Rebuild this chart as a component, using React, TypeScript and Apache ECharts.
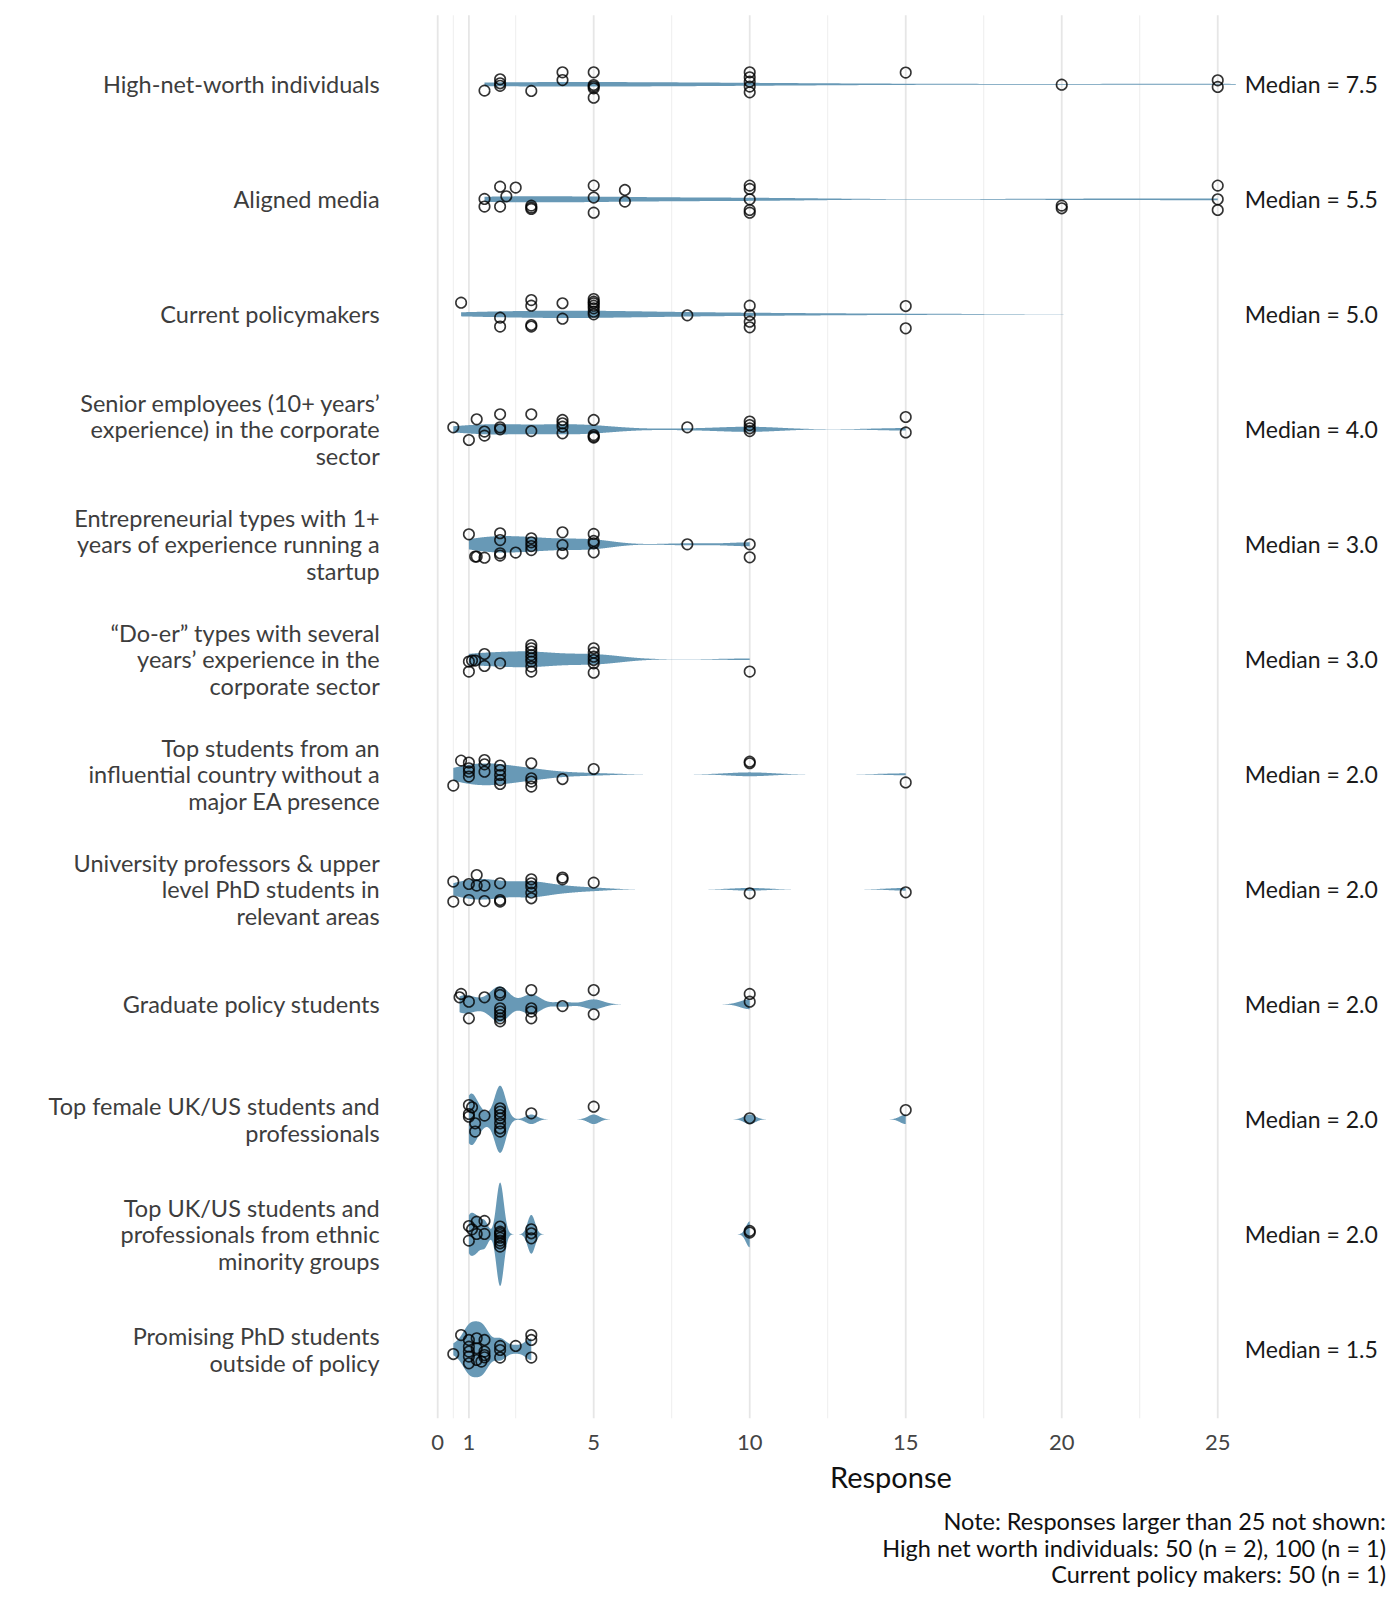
import React, { useEffect, useRef } from "react";
import * as echarts from "echarts";

const FONT = 'Lato, "Noto Sans", sans-serif';

const CATEGORIES = [
  "High-net-worth individuals",
  "Aligned media",
  "Current policymakers",
  "Senior employees (10+ years’\nexperience) in the corporate\nsector",
  "Entrepreneurial types with 1+\nyears of experience running a\nstartup",
  "“Do-er” types with several\nyears’ experience in the\ncorporate sector",
  "Top students from an\ninfluential country without a\nmajor EA presence",
  "University professors & upper\nlevel PhD students in\nrelevant areas",
  "Graduate policy students",
  "Top female UK/US students and\nprofessionals",
  "Top UK/US students and\nprofessionals from ethnic\nminority groups",
  "Promising PhD students\noutside of policy",
];

const MEDIANS = [7.5, 5.5, 5.0, 4.0, 3.0, 3.0, 2.0, 2.0, 2.0, 2.0, 2.0, 1.5];

const X_TICKS = [0, 1, 5, 10, 15, 20, 25];
const GRID_MAJOR = [0, 1, 5, 10, 15, 20, 25];
const GRID_MINOR = [0.5, 2.5, 7.5, 12.5, 17.5, 22.5];

// Kernel bandwidth per group (response units), tuned to the reference shapes
const BANDWIDTHS = [3.5, 2.5, 2.6, 1.0, 0.7, 0.9, 0.7, 0.55, 0.3, 0.18, 0.12, 0.2];

// [response, vertical jitter in % of a row band]
const HNW: [number, number][] = [
  [1.5, 5.5], [2, -4.3], [2, -0.9], [2, 1.3], [3, 5.8], [4, -10.4], [4, -3.7],
  [5, -10.4], [5, 0.6], [5, 2], [5, 3.5], [5, 11.6],
  [10, -10.4], [10, -6.1], [10, -2.3], [10, 2], [10, 7],
  [15, -10.2], [20, 0.3], [25, -3.5], [25, 2.3],
];
const MEDIA: [number, number][] = [
  [1.5, -0.3], [1.5, 6.3], [2, -11], [2, 6.3], [2.2, -2.6], [2.5, -10.2],
  [3, 5.5], [3, 7.2], [3, 8.4], [5, -11.9], [5, -1.5], [5, 11.6], [6, -8.1], [6, 2],
  [10, -11.9], [10, -9], [10, 0], [10, 9.3], [10, 11.6],
  [20, 5.5], [20, 7.8], [25, -11.9], [25, 0], [25, 9.3],
];
const POLICY: [number, number][] = [
  [0.75, -10.1], [2, 2.9], [2, 10.7], [3, -12.4], [3, -7.5], [3, 9.3], [3, 10.7],
  [4, -9.6], [4, 3.8], [5, -13.3], [5, -11], [5, -9.6], [5, -7.5], [5, -5.2], [5, -2.3], [5, 0],
  [8, 0.9], [10, -7.5], [10, 0.6], [10, 6.4], [10, 11.3], [15, -7.2], [15, 12.2],
];
const SENIOR: [number, number][] = [
  [0.5, -1.7], [1, 9.3], [1.25, -8.7], [1.5, 2], [1.5, 5.5], [2, -13], [2, -1.7], [2, 0],
  [3, -13], [3, 1.5], [4, -8.1], [4, -5.2], [4, -2.3], [4, 3.5],
  [5, -8.1], [5, 5], [5, 6.3], [5, 7.2], [8, -1.7],
  [10, -6.7], [10, -3.7], [10, -0.9], [10, 1.5], [15, -10.7], [15, 2.7],
];
const ENTRE: [number, number][] = [
  [1, -8.7], [1.2, 10.7], [1.25, 10.7], [1.5, 11.6], [2, -9.6], [2, -3.7], [2, 7.8], [2, 9.8],
  [2.5, 7.2], [3, -5.2], [3, -1.7], [3, 1.5], [3, 5], [4, -10.4], [4, 0.6], [4, 7.8],
  [5, -9], [5, -2.9], [5, -0.9], [5, 7], [8, 0], [10, 0], [10, 11.3],
];
const DOER: [number, number][] = [
  [1, 10.7], [1, 2], [1.1, 1.1], [1.2, 1.1], [1.5, -4.6], [1.5, 5.8], [2, 3.5],
  [3, -12.4], [3, -9.6], [3, -6.7], [3, -3.7], [3, -0.9], [3, 2], [3, 6.3], [3, 10.7],
  [5, -9.6], [5, -5.8], [5, -2.3], [5, 0.6], [5, 3.5], [5, 11.6], [10, 10.7],
];
const INFLUENTIAL: [number, number][] = [
  [0.5, 9.8], [0.75, -11.9], [1, -10.2], [1, -5.2], [1, -2.3], [1, 2],
  [1.5, -12.4], [1.5, -8.7], [1.5, -2.3], [2, -7.6], [2, -3.7], [2, 0.6], [2, 5], [2, 8.4],
  [3, -9.6], [3, 3.5], [3, 6.3], [3, 10.7], [4, 4.1], [5, -4.6], [10, -11], [10, -9.6], [15, 7.1],
];
const PROFESSORS: [number, number][] = [
  [0.5, -6.7], [0.5, 10.7], [1, -4.6], [1, 9.3], [1.25, -3.2], [1.25, -12.4],
  [1.5, -3.2], [1.5, 10.2], [2, -5.2], [2, 9.3], [2, 10.7],
  [3, -8.7], [3, -5.2], [3, -2.3], [3, 2.9], [3, 7.8], [4, -10.2], [4, -8.7],
  [5, -5.8], [10, 3.5], [15, 2.6],
];
const GRADUATE: [number, number][] = [
  [0.7, -6.1], [0.75, -9], [1, -2.3], [1, 12.2], [1.5, -6.1],
  [2, -10.2], [2, -8.1], [2, 3.5], [2, 6.3], [2, 9.3], [2, 12.2], [2, 14.8],
  [3, -12.4], [3, 3.5], [3, 6.3], [3, 12.2], [4, 1.5], [5, -12.4], [5, 8.7], [10, -9], [10, -2.3],
];
const FEMALE: [number, number][] = [
  [1, -12.4], [1.1, -10.4], [1, -4.6], [1, -2.3], [1.2, 3.5], [1.2, 10.7], [1.5, -3.2],
  [2, -9.6], [2, -6.7], [2, -3.7], [2, -0.9], [2, 3.5], [2, 7.8], [2, 10.7],
  [3, -5.2], [5, -11], [10, -0.9], [15, -8],
];
const ETHNIC: [number, number][] = [
  [1, -7.2], [1, 5.5], [1.1, -4.3], [1.25, -11], [1.25, -0.3], [1.5, -11.6], [1.5, -0.3],
  [2, -6.7], [2, -2.3], [2, -1], [2, 0.6], [2, 3], [2, 5.5], [2, 7.8], [2, 10.7],
  [3, -4.3], [3, -0.9], [3, 3.5], [10, -2.9], [10, -1.5],
];
const PHD: [number, number][] = [
  [0.5, 4.1], [0.75, -12.4], [1, -8.1], [1, -2.3], [1, 2], [1, 6.3], [1, 12.2],
  [1.25, -9.6], [1.25, -0.9], [1.25, 9.3], [1.4, 10.7],
  [1.5, -8.1], [1.5, 2], [1.5, 5], [1.5, 7], [2, -2.9], [2, 0.6], [2, 7.2],
  [2.5, -2.9], [3, -12.4], [3, -8.1], [3, 7.2],
];

const GROUP_POINTS = [HNW, MEDIA, POLICY, SENIOR, ENTRE, DOER, INFLUENTIAL, PROFESSORS, GRADUATE, FEMALE, ETHNIC, PHD];

// Responses beyond the axis (not drawn as points, but part of each violin)
const OFFSCALE: number[][] = [[50, 50, 100], [], [50], [], [], [], [], [], [], [], [], []];

const NOTE_LINES = [
  "Note: Responses larger than 25 not shown:",
  "High net worth individuals: 50 (n = 2), 100 (n = 1)",
  "Current policy makers: 50 (n = 1)",
];

const VIOLIN_COLOR = "#6899b6";

function density(values: number[], bw: number, steps: number) {
  const lo = Math.min(...values);
  const hi = Math.max(...values);
  const n = values.length;
  const xs: number[] = [];
  const ds: number[] = [];
  const norm = 1 / (n * bw * Math.sqrt(2 * Math.PI));
  for (let k = 0; k <= steps; k++) {
    const x = lo + ((hi - lo) * k) / steps;
    let s = 0;
    for (const v of values) {
      const z = (x - v) / bw;
      s += Math.exp(-0.5 * z * z);
    }
    xs.push(x);
    ds.push(s * norm);
  }
  return { xs, ds };
}

const DENSITIES = GROUP_POINTS.map((pts, i) =>
  density(pts.map((p) => p[0]).concat(OFFSCALE[i]), BANDWIDTHS[i], 1024)
);
const DMAX = Math.max(...DENSITIES.map((d) => Math.max(...d.ds)));

export default function App() {
  const ref = useRef<HTMLDivElement>(null);

  useEffect(() => {
    document.body.style.margin = "0";
    const chart = echarts.init(ref.current!, null, { renderer: "svg" });

    const gridSeries = (vals: number[], color: string, width: number) => ({
      type: "custom",
      silent: true,
      z: 0,
      data: vals.map((v) => [v]),
      renderItem: (_p: any, api: any) => {
        const a = api.coord([api.value(0), 0.4]);
        const b = api.coord([api.value(0), 12.6]);
        return {
          type: "line",
          shape: { x1: a[0], y1: a[1], x2: b[0], y2: b[1] },
          style: { stroke: color, lineWidth: width },
        };
      },
    });

    const pointData: number[][] = [];
    GROUP_POINTS.forEach((pts, i) => {
      pts.forEach((p) => pointData.push([p[0], i + 1 + p[1] / 100]));
    });

    const option: any = {
      animation: false,
      textStyle: { fontFamily: FONT },
      grid: {
        left: 398.7,
        top: 15.3,
        width: 984.4,
        height: 1403,
        containLabel: false,
        outerBoundsMode: "none",
      },
      xAxis: {
        type: "value",
        min: -1.25,
        max: 30.3,
        axisLine: { show: false },
        axisTick: { show: false },
        splitLine: { show: false },
        axisLabel: {
          customValues: X_TICKS,
          fontSize: 22,
          color: "#444",
          margin: 12,
          fontFamily: FONT,
        },
        name: "Response",
        nameLocation: "middle",
        nameGap: 44,
        nameTextStyle: { fontSize: 29, color: "#111", fontFamily: FONT },
      },
      yAxis: {
        type: "value",
        inverse: true,
        min: 0.4,
        max: 12.6,
        axisLine: { show: false },
        axisTick: { show: false },
        splitLine: { show: false },
        axisLabel: {
          customValues: CATEGORIES.map((_, i) => i + 1),
          formatter: (v: number) => CATEGORIES[Math.round(v) - 1] ?? "",
          fontSize: 23.5,
          lineHeight: 26.6,
          align: "right",
          margin: 19,
          color: "#3d3d3d",
          fontFamily: FONT,
        },
      },
      series: [
        gridSeries(GRID_MINOR, "#eeeeee", 1),
        gridSeries(GRID_MAJOR, "#e6e6e6", 1.8),
        {
          type: "custom",
          silent: true,
          clip: true,
          z: 2,
          data: CATEGORIES.map((_, i) => [i]),
          renderItem: (params: any, api: any) => {
            const gi = params.dataIndex;
            const { xs, ds } = DENSITIES[gi];
            const yc = gi + 1;
            const top: number[][] = [];
            const bottom: number[][] = [];
            for (let k = 0; k < xs.length; k++) {
              const hw = (0.45 * ds[k]) / DMAX;
              top.push(api.coord([xs[k], yc - hw]));
              bottom.push(api.coord([xs[k], yc + hw]));
            }
            return {
              type: "polygon",
              shape: { points: top.concat(bottom.reverse()) },
              style: { fill: VIOLIN_COLOR, stroke: null },
            };
          },
        },
        {
          type: "scatter",
          z: 3,
          silent: true,
          data: pointData,
          symbol: "circle",
          symbolSize: 10.5,
          itemStyle: { color: "rgba(0,0,0,0)", borderColor: "#000", borderWidth: 1.6 },
        },
        {
          type: "custom",
          z: 5,
          silent: true,
          clip: false,
          data: MEDIANS.map((m, i) => [28, i + 1, m]),
          renderItem: (_p: any, api: any) => {
            const c = api.coord([api.value(0), api.value(1)]);
            return {
              type: "text",
              x: c[0],
              y: c[1],
              style: {
                text: "Median = " + api.value(2).toFixed(1),
                fontSize: 23,
                fontFamily: FONT,
                fill: "#1a1a1a",
                align: "center",
                verticalAlign: "middle",
                backgroundColor: "#ffffff",
                padding: [6, 9],
              },
            };
          },
        },
      ],
      graphic: NOTE_LINES.map((line, k) => ({
        type: "text",
        x: 1386,
        y: 1521 + k * 26.5,
        style: {
          text: line,
          fontSize: 23.5,
          fontFamily: FONT,
          fill: "#111",
          align: "right",
          verticalAlign: "middle",
        },
      })),
    };

    chart.setOption(option);
    return () => chart.dispose();
  }, []);

  return <div ref={ref} style={{ width: 1400, height: 1600 }} />;
}
